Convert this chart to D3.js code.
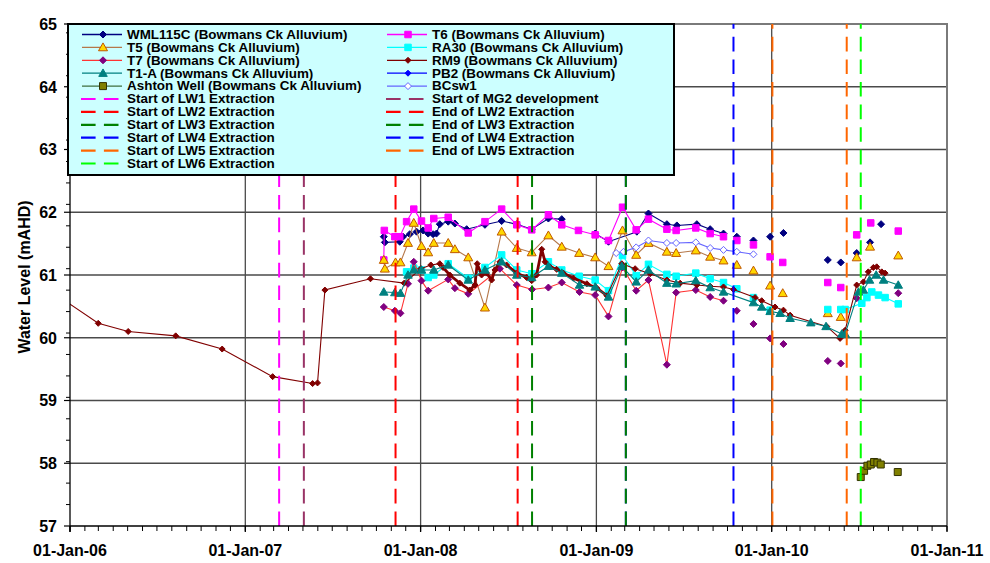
<!DOCTYPE html>
<html><head><meta charset="utf-8">
<script src="https://cdn.jsdelivr.net/npm/d3@7"></script>
<style>
body{margin:0;background:#fff}
svg{display:block}
text{font-family:"Liberation Sans",Arial,Helvetica,sans-serif;font-weight:bold;fill:#000}
</style>
</head><body>
<svg id="chart" width="990" height="563"></svg>
<script>
// ---------------- DATA (decimal year, water level mAHD); null = gap ----------------
const xTickDates  = ["2006-01-01","2007-01-01","2008-01-01","2009-01-01","2010-01-01","2011-01-01"];
const xTickLabels = ["01-Jan-06","01-Jan-07","01-Jan-08","01-Jan-09","01-Jan-10","01-Jan-11"];
const yTicks = [57,58,59,60,61,62,63,64,65];
const yTitle = "Water Level (mAHD)";

const WML115C = [[2007.790,61.61],[2007.796,61.52],[2007.881,61.53],[2007.900,61.61],[2007.938,61.65],[2007.977,61.69],[2008.014,61.71],[2008.043,61.66],[2008.071,61.65],[2008.090,61.66],[2008.109,61.81],[2008.157,61.85],[2008.195,61.82],[2008.262,61.73],[2008.366,61.80],[2008.461,61.86],[2008.547,61.81],[2008.632,61.73],[2008.727,61.90],[2008.803,61.89],null,[2008.993,61.66],[2009.069,61.53],[2009.231,61.69],[2009.297,61.98],[2009.402,61.81],[2009.459,61.79],[2009.573,61.81],[2009.649,61.73],[2009.725,61.66],null,[2009.801,61.61],null,[2009.896,61.55],null,[2009.991,61.61],null,[2010.067,61.67],null,[2010.320,61.24],null,[2010.394,61.20],null,[2010.485,61.35],null,[2010.561,61.52],null,[2010.624,61.81]];
const T6 = [[2007.790,61.24],[2007.793,61.71],[2007.853,61.61],[2007.881,61.61],[2007.920,61.85],[2007.961,62.05],[2008.005,61.86],[2008.043,61.75],[2008.075,61.90],[2008.157,61.92],[2008.271,61.67],[2008.366,61.85],[2008.461,62.05],[2008.547,61.80],[2008.632,61.72],[2008.727,61.96],[2008.803,61.80],[2008.898,61.71],[2008.993,61.64],[2009.069,61.55],[2009.149,62.08],[2009.227,61.72],[2009.297,61.89],[2009.402,61.73],[2009.455,61.71],[2009.567,61.75],[2009.649,61.66],[2009.725,61.61],null,[2009.801,61.55],null,[2009.896,61.48],null,[2009.991,61.29],null,[2010.063,61.20],null,[2010.320,60.88],null,[2010.394,60.80],null,[2010.485,61.64],null,[2010.565,61.83],null,[2010.722,61.70]];
const T5 = [[2007.790,61.24],[2007.796,61.10],[2007.857,61.20],[2007.885,61.20],[2007.928,61.51],[2007.961,61.83],[2008.005,61.46],[2008.043,61.36],[2008.075,61.51],[2008.157,61.51],[2008.195,61.41],[2008.271,61.28],[2008.366,60.48],[2008.461,61.69],[2008.547,61.43],[2008.632,61.36],[2008.727,61.63],[2008.803,61.45],[2008.902,61.35],[2008.993,61.28],[2009.069,61.14],[2009.149,61.71],[2009.227,61.32],[2009.297,61.51],[2009.402,61.37],[2009.455,61.35],[2009.567,61.39],[2009.649,61.29],[2009.725,61.23],null,[2009.801,61.16],null,[2009.896,61.07],null,[2009.991,60.83],null,[2010.063,60.71],null,[2010.320,60.39],null,[2010.394,60.33],null,[2010.485,61.28],null,[2010.561,61.45],null,[2010.722,61.31]];
const RA30 = [[2007.920,61.05],[2007.961,61.11],[2008.005,61.08],[2008.043,60.96],[2008.075,61.00],[2008.157,61.18],[2008.271,60.95],[2008.366,61.12],[2008.461,61.32],[2008.547,61.08],[2008.632,61.02],[2008.727,61.21],[2008.803,61.08],[2008.902,60.98],[2008.993,60.92],[2009.069,60.75],[2009.149,61.31],[2009.227,60.99],[2009.297,61.17],[2009.402,61.01],[2009.455,60.98],[2009.567,61.03],[2009.649,60.94],[2009.725,60.88],[2009.801,60.78],null,[2009.896,60.64],null,[2009.991,60.44],null,[2010.320,60.45],null,[2010.394,60.45],[2010.419,60.45],[2010.514,60.55],[2010.543,60.64],[2010.571,60.73],[2010.609,60.68],[2010.647,60.64],[2010.722,60.54]];
const T7 = [[2007.790,60.49],[2007.853,60.43],[2007.885,60.39],[2007.928,60.86],[2007.961,61.21],[2008.005,60.91],[2008.043,60.75],[2008.157,60.93],[2008.195,60.79],[2008.271,60.70],[2008.451,61.10],[2008.547,60.84],[2008.634,60.77],[2008.727,60.80],[2008.803,60.88],[2008.904,60.73],[2008.993,60.68],[2009.069,60.34],[2009.149,61.12],[2009.227,60.75],[2009.297,60.92],[2009.402,59.57],[2009.455,60.72],[2009.567,60.76],[2009.649,60.65],[2009.725,60.59],null,[2009.801,60.43],null,[2009.896,60.22],null,[2009.991,59.99],null,[2010.067,59.90],null,[2010.320,59.63],null,[2010.394,59.59],null,[2010.485,60.63],null,[2010.722,60.71]];
const RM9 = [[2005.914,60.70],[2006.161,60.23],[2006.332,60.10],[2006.603,60.03],[2006.868,59.82],[2007.156,59.38],[2007.384,59.27],[2007.412,59.28],[2007.454,60.76],[2007.714,60.94],[2007.906,60.87],[2008.001,61.10],[2008.058,61.16],[2008.109,61.18],[2008.128,61.12],[2008.166,61.00],[2008.223,60.87],[2008.280,60.76],[2008.309,60.84],[2008.322,61.18],[2008.347,61.00],[2008.375,61.03],[2008.404,60.92],[2008.423,61.08],[2008.451,61.21],[2008.489,61.16],[2008.546,61.03],[2008.603,60.96],[2008.632,60.91],[2008.660,61.00],[2008.689,61.41],[2008.708,61.21],[2008.736,61.13],[2008.774,61.09],[2008.812,61.03],[2008.869,60.95],[2008.946,60.86],[2009.003,60.79],[2009.060,60.67],[2009.145,61.18],[2009.221,61.10],[2009.307,61.02],[2009.402,60.92],[2009.478,60.87],[2009.573,60.84],[2009.649,60.82],[2009.725,60.81],[2009.782,60.77],[2009.905,60.64],[2009.943,60.59],[2010.019,60.49],[2010.067,60.44],[2010.105,60.36],[2010.314,60.18],[2010.390,59.99],[2010.419,60.12],[2010.485,60.84],[2010.523,60.89],[2010.551,61.05],[2010.580,61.12],[2010.599,61.13],[2010.628,61.05],[2010.647,61.03]];
const RM9LoggerPeriod = [2008.12, 2009.07];
const T1A = [[2007.790,60.73],[2007.853,60.72],[2007.885,60.71],[2007.928,61.00],[2007.961,61.08],[2008.005,61.08],[2008.075,61.08],[2008.157,61.16],[2008.271,60.92],[2008.366,61.08],[2008.461,61.21],[2008.547,61.00],[2008.632,60.96],[2008.727,61.14],[2008.803,61.03],[2008.904,60.84],[2008.993,60.81],[2009.069,60.65],[2009.145,61.14],[2009.227,60.89],[2009.297,61.08],[2009.402,60.87],[2009.455,60.86],[2009.567,60.91],[2009.649,60.80],[2009.725,60.73],[2009.896,60.56],[2009.943,60.49],[2009.991,60.42],[2010.048,60.39],[2010.105,60.31],[2010.223,60.24],[2010.310,60.18],[2010.400,60.06],[2010.419,60.06],[2010.495,60.73],[2010.523,60.76],[2010.558,60.92],[2010.596,61.00],[2010.638,60.92],[2010.722,60.84]];
const PB2 = [];
const AshtonWell = [[2010.508,57.78],[2010.527,57.88],[2010.546,57.96],[2010.565,57.98],[2010.584,58.02],[2010.603,58.01],[2010.622,57.98],null,[2010.719,57.86]];
const BCsw1 = [[2009.113,61.35],[2009.155,61.37],[2009.227,61.44],[2009.297,61.55],[2009.402,61.51],[2009.455,61.51],[2009.567,61.52],[2009.649,61.43],[2009.725,61.40],[2009.801,61.37],[2009.896,61.33]];

const seriesNames = ["WML115C (Bowmans Ck Alluvium)","T6 (Bowmans Ck Alluvium)","T5 (Bowmans Ck Alluvium)","RA30 (Bowmans Ck Alluvium)","T7 (Bowmans Ck Alluvium)","RM9 (Bowmans Ck Alluvium)","T1-A (Bowmans Ck Alluvium)","PB2 (Bowmans Ck Alluvium)","Ashton Well (Bowmans Ck Alluvium)","BCsw1"];
const seriesData = [WML115C, T6, T5, RA30, T7, RM9, T1A, PB2, AshtonWell, BCsw1];

const eventNames = ["Start of LW1 Extraction","Start of MG2 development","Start of LW2 Extraction","End of LW2 Extraction","Start of LW3 Extraction","End of LW3 Extraction","Start of LW4 Extraction","End of LW4 Extraction","Start of LW5 Extraction","End of LW5 Extraction","Start of LW6 Extraction"];
const eventDates = [2007.193, 2007.334, 2007.857, 2008.552, 2008.634, 2009.168, 2009.168, 2009.782, 2010.004, 2010.428, 2010.508];

// ---------------- STYLES ----------------
const seriesStyle = [
  {line:"#000080", shape:"diamond", fill:"#000080", stroke:"#000080", size:7},
  {line:"#FF00FF", shape:"square",  fill:"#FF00FF", stroke:"#FF00FF", size:6.5},
  {line:"#B5784A", shape:"triangle",fill:"#FFD700", stroke:"#C05800", size:9},
  {line:"#00FFFF", shape:"square",  fill:"#00FFFF", stroke:"#00FFFF", size:6.5},
  {line:"#FF3333", shape:"diamond", fill:"#800080", stroke:"#800080", size:7},
  {line:"#800000", shape:"diamond", fill:"#800000", stroke:"#800000", size:6},
  {line:"#008080", shape:"triangle",fill:"#008080", stroke:"#008080", size:8.5},
  {line:"#0000FF", shape:"diamond", fill:"#0000FF", stroke:"#0000FF", size:6},
  {line:"#3F6F3F", shape:"square",  fill:"#808000", stroke:"#333300", size:7},
  {line:"#6666FF", shape:"diamond", fill:"#FFFFFF", stroke:"#6666FF", size:7}
];
const eventColors = ["#FF00FF","#993366","#FF0000","#FF0000","#008000","#008000","#0000FF","#0000FF","#FF6600","#FF6600","#00FF00"];
const eventDrawOrder = [0,1,2,3,4,6,5,7,8,9,10];

// ---------------- CHART ----------------
const svg = d3.select("#chart");
const M = {left:70, top:24, right:947, bottom:526};

function decToDate(d){
  const yr = Math.floor(d);
  const a = Date.UTC(yr,0,1), b = Date.UTC(yr+1,0,1);
  return new Date(a + (d - yr) * (b - a));
}
const x = d3.scaleUtc().domain([new Date(Date.UTC(2006,0,1)), new Date(Date.UTC(2011,0,1))]).range([M.left, M.right]);
const y = d3.scaleLinear().domain([57,65]).range([M.bottom, M.top]);

svg.append("rect").attr("x",0).attr("y",0).attr("width",990).attr("height",563).attr("fill","#fff");

svg.append("defs").append("clipPath").attr("id","plotclip")
  .append("rect").attr("x",M.left).attr("y",M.top).attr("width",M.right-M.left).attr("height",M.bottom-M.top);

// gridlines
const grid = svg.append("g");
grid.selectAll("line.h").data(yTicks.filter(v=>v>57 && v<65)).join("line")
  .attr("x1",M.left).attr("x2",M.right).attr("y1",d=>y(d)).attr("y2",d=>y(d))
  .attr("stroke","#4a4a4a").attr("stroke-width",1.3);
grid.selectAll("line.v").data(xTickDates.slice(1,-1)).join("line")
  .attr("x1",d=>x(new Date(d+"T00:00:00Z"))).attr("x2",d=>x(new Date(d+"T00:00:00Z")))
  .attr("y1",M.top).attr("y2",M.bottom)
  .attr("stroke","#4a4a4a").attr("stroke-width",1.3);

svg.append("path").attr("d",`M${M.left},${M.top}H${M.right}V${M.bottom}`)
  .attr("fill","none").attr("stroke","#7a7a7a").attr("stroke-width",2);

function markerPath(shape, s){
  const h = s/2;
  if(shape==="diamond") return `M0,${-h}L${h},0L0,${h}L${-h},0Z`;
  if(shape==="square") return `M${-h},${-h}H${h}V${h}H${-h}Z`;
  if(shape==="triangle") return `M0,${-h}L${h},${h*0.75}L${-h},${h*0.75}Z`;
  return "";
}

const plot = svg.append("g").attr("clip-path","url(#plotclip)");
const line = d3.line().defined(d=>d!==null).x(d=>x(decToDate(d[0]))).y(d=>y(d[1]));

seriesData.forEach((data,i)=>{
  const st = seriesStyle[i];
  const g = plot.append("g");
  g.append("path").datum(data).attr("d",line)
    .attr("fill","none").attr("stroke",st.line).attr("stroke-width",1.1);
  if(data === RM9){
    // logger record: dense readings drawn heavier
    const dense = RM9.filter(d=>d && d[0]>=RM9LoggerPeriod[0] && d[0]<=RM9LoggerPeriod[1]);
    g.append("path").datum(dense).attr("d",line)
      .attr("fill","none").attr("stroke",st.line).attr("stroke-width",2.8).attr("stroke-linejoin","round");
  }
  g.selectAll("path.m").data(data.filter(d=>d!==null)).join("path")
    .attr("class","m")
    .attr("transform",d=>`translate(${x(decToDate(d[0]))},${y(d[1])})`)
    .attr("d",markerPath(st.shape, st.size))
    .attr("fill",st.fill).attr("stroke",st.stroke).attr("stroke-width",1);
});

eventDrawOrder.forEach(i=>{
  const xx = x(decToDate(eventDates[i]));
  plot.append("line").attr("x1",xx).attr("x2",xx).attr("y1",M.bottom).attr("y2",M.top)
    .attr("stroke",eventColors[i]).attr("stroke-width",2).attr("stroke-dasharray","14.6,8");
});

// axes
const axisG = svg.append("g");
axisG.append("line").attr("x1",M.left).attr("x2",M.left).attr("y1",M.top).attr("y2",M.bottom+6).attr("stroke","#000").attr("stroke-width",1.3);
axisG.append("line").attr("x1",M.left).attr("x2",M.right).attr("y1",M.bottom).attr("y2",M.bottom).attr("stroke","#000").attr("stroke-width",1.3);

axisG.selectAll("line.yt").data(yTicks).join("line")
  .attr("x1",M.left-6).attr("x2",M.left).attr("y1",d=>y(d)).attr("y2",d=>y(d))
  .attr("stroke","#000").attr("stroke-width",1.2);
const yMinor = d3.range(1,24).map(k=>57 + k*0.3417);
axisG.selectAll("line.ym").data(yMinor).join("line")
  .attr("x1",M.left-4).attr("x2",M.left).attr("y1",d=>y(d)).attr("y2",d=>y(d))
  .attr("stroke","#000").attr("stroke-width",1);
axisG.selectAll("text.yl").data(yTicks).join("text")
  .attr("x",57).attr("y",d=>y(d)).attr("dy","0.36em")
  .attr("text-anchor","end").attr("font-size",16).text(d=>d);

const months = d3.utcMonth.range(new Date(Date.UTC(2006,0,1)), new Date(Date.UTC(2011,0,2)));
axisG.selectAll("line.xm").data(months).join("line")
  .attr("x1",d=>x(d)).attr("x2",d=>x(d)).attr("y1",M.bottom).attr("y2",M.bottom+5)
  .attr("stroke","#000").attr("stroke-width",1);
axisG.selectAll("line.xt").data(xTickDates).join("line")
  .attr("x1",d=>x(new Date(d+"T00:00:00Z"))).attr("x2",d=>x(new Date(d+"T00:00:00Z")))
  .attr("y1",M.bottom).attr("y2",M.bottom+6).attr("stroke","#000").attr("stroke-width",1.3);
axisG.selectAll("text.xl").data(xTickDates).join("text")
  .attr("x",d=>x(new Date(d+"T00:00:00Z"))).attr("y",556)
  .attr("text-anchor","middle").attr("font-size",16)
  .text((d,i)=>xTickLabels[i]);

svg.append("text").attr("transform","translate(30,277) rotate(-90)")
  .attr("text-anchor","middle").attr("font-size",16).text(yTitle);

// legend
const leg = svg.append("g");
leg.append("rect").attr("x",68).attr("y",24).attr("width",606).attr("height",151)
  .attr("fill","#CCFFFF").attr("stroke","#000").attr("stroke-width",2);
const legendEntries = [];
seriesNames.forEach((n,i)=>legendEntries.push({name:n, type:"series", idx:i}));
eventNames.forEach((n,i)=>legendEntries.push({name:n, type:"event", idx:i}));
const colX = [82, 387];
legendEntries.forEach((e,k)=>{
  const col = k % 2, row = Math.floor(k/2);
  const ly = 34.5 + row*12.9;
  const x0 = colX[col];
  const g = leg.append("g");
  if(e.type==="series"){
    const st = seriesStyle[e.idx];
    g.append("line").attr("x1",x0).attr("x2",x0+40).attr("y1",ly).attr("y2",ly)
      .attr("stroke",st.line).attr("stroke-width",1.3);
    g.append("path").attr("transform",`translate(${x0+21},${ly})`)
      .attr("d",markerPath(st.shape, st.size)).attr("fill",st.fill).attr("stroke",st.stroke).attr("stroke-width",1);
  } else {
    g.append("line").attr("x1",x0-1).attr("x2",x0+37).attr("y1",ly).attr("y2",ly)
      .attr("stroke",eventColors[e.idx]).attr("stroke-width",2.2).attr("stroke-dasharray","14.6,8.3");
  }
  g.append("text").attr("transform",`translate(${x0+45},${ly}) scale(1.12,1)`)
    .attr("dy","0.36em").attr("font-size",12).text(e.name);
});
</script>
</body></html>
